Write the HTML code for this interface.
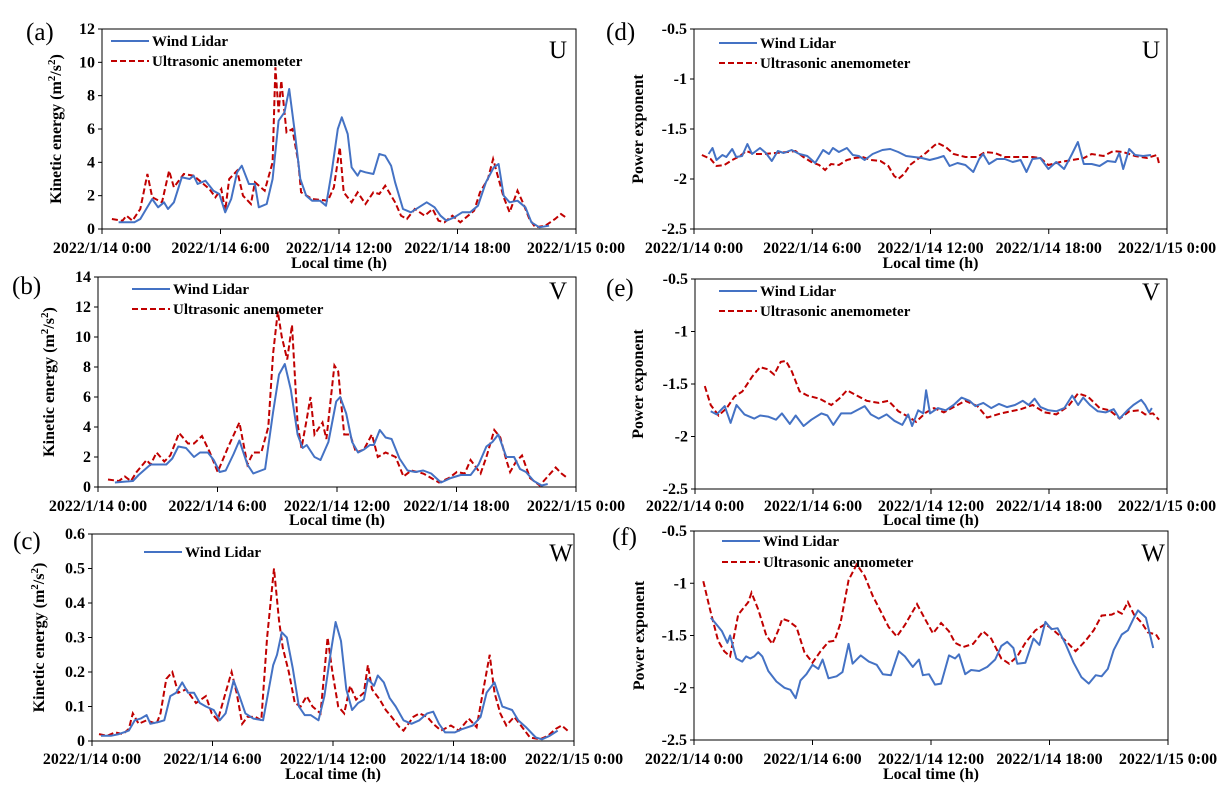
<!DOCTYPE html>
<html><head><meta charset="utf-8">
<style>
html,body{margin:0;padding:0;background:#fff;}
svg{display:block;font-family:"Liberation Serif",serif;}
.tk{font-size:16px;font-weight:bold;}
.ttl{font-size:16px;font-weight:bold;}
.lg{font-size:15px;font-weight:bold;}
.pl{font-size:25px;}
</style></head>
<body>
<svg id="fig" width="1229" height="797" viewBox="0 0 1229 797" xmlns="http://www.w3.org/2000/svg"></svg>
<script>
// ---------- data (hours, values) ----------
const xTickLabels = ["2022/1/14 0:00","2022/1/14 6:00","2022/1/14 12:00","2022/1/14 18:00","2022/1/15 0:00"];
const xTickHours = [0,6,12,18,24];

const aRedT=[0.5,1.04,1.24,1.54,1.94,2.3,2.54,3.04,3.4,3.64,4.14,4.64,5.04,5.44,5.74,6.04,6.24,6.44,6.84,7.14,7.54,7.74,8.24,8.64,8.78,8.94,9.08,9.34,9.64,9.94,10.08,10.64,11.44,11.74,12.04,12.24,12.64,12.94,13.34,13.74,14.04,14.34,14.84,15.14,15.44,15.84,16.34,16.74,17.04,17.34,17.74,18.14,18.84,19.14,19.54,19.8,20.08,20.34,20.64,21.04,21.34,21.64,21.94,22.44,22.94,23.24,23.48];
const aRedV=[0.6,0.5,0.8,0.5,1.2,3.3,1.9,1.6,3.5,2.5,3.3,3.2,2.8,2.4,1.9,2.4,1.1,3.0,3.5,2.0,1.5,2.8,2.3,4.0,9.7,7.0,8.9,5.8,6.0,4.0,2.2,1.8,1.7,2.5,4.9,2.2,1.6,2.2,1.5,2.2,2.1,2.6,1.6,0.8,0.6,1.2,0.8,1.2,0.5,0.4,0.8,0.4,1.1,2.2,3.0,4.2,3.0,1.9,1.0,2.3,1.5,0.6,0.1,0.2,0.6,0.9,0.7];
const aBlueT=[0.84,1.64,1.94,2.24,2.54,2.84,3.14,3.34,3.64,4.04,4.44,4.64,4.84,5.24,5.64,5.94,6.24,6.54,6.84,7.08,7.44,7.74,7.94,8.34,8.64,8.94,9.24,9.48,9.74,10.04,10.34,10.64,11.04,11.34,11.64,11.94,12.14,12.44,12.64,12.94,13.08,13.34,13.74,14.04,14.34,14.64,14.84,15.24,15.64,16.04,16.44,16.84,17.14,17.44,17.84,18.24,18.64,19.04,19.44,19.84,20.08,20.34,20.64,21.04,21.44,21.74,22.14,22.64];
const aBlueV=[0.4,0.4,0.6,1.2,1.8,1.3,1.6,1.2,1.6,3.1,3.0,3.2,2.7,2.9,2.3,2.1,1.0,1.8,3.4,3.8,2.7,2.7,1.3,1.5,3.0,6.5,7.0,8.4,6.0,3.0,2.0,1.7,1.7,1.4,3.5,6.0,6.7,5.7,3.7,3.2,3.5,3.4,3.3,4.5,4.4,3.8,2.8,1.2,1.0,1.3,1.6,1.3,0.8,0.5,0.7,1.0,1.0,1.4,2.8,3.7,3.9,2.0,1.6,1.7,1.3,0.4,0.1,0.2];

const bRedT=[0.5,1.05,1.35,1.65,1.94,2.44,2.64,2.94,3.33,3.63,4.07,4.52,4.82,5.22,5.62,6.01,6.51,7.1,7.5,7.8,8.2,8.55,8.79,9.03,9.23,9.5,9.74,10.02,10.22,10.48,10.67,10.87,11.27,11.47,11.87,12.06,12.36,12.66,12.96,13.35,13.75,14.05,14.44,14.94,15.34,15.73,16.33,16.73,17.12,17.62,18.02,18.41,18.71,19.21,19.5,19.9,20.2,20.5,20.69,20.99,21.29,21.69,22.18,22.58,22.98,23.27,23.57];
const bRedV=[0.5,0.4,0.7,0.4,1.0,1.8,1.5,2.3,1.7,2.1,3.6,2.9,2.9,3.4,2.3,1.0,2.6,4.3,1.5,2.3,2.3,4.0,8.9,11.7,10.0,8.5,10.8,4.2,2.6,4.5,6.0,3.5,4.3,3.2,8.1,7.7,3.5,3.5,2.3,2.5,3.5,2.0,2.3,2.0,0.7,1.1,0.9,0.6,0.3,0.6,1.0,0.9,1.8,0.9,2.0,3.8,3.3,1.8,1.0,1.7,2.1,0.6,0.1,0.7,1.3,0.9,0.6];
const bBlueT=[0.85,1.75,2.04,2.64,3.04,3.43,3.73,4.03,4.42,4.82,5.12,5.52,5.81,6.11,6.41,6.81,7.1,7.5,7.8,8.39,8.79,9.09,9.38,9.68,10.02,10.28,10.48,10.87,11.17,11.57,11.96,12.16,12.46,12.76,13.06,13.35,13.65,13.85,14.15,14.44,14.74,15.14,15.54,15.93,16.33,16.73,17.22,17.72,18.21,18.71,19.11,19.5,19.8,20.1,20.5,20.89,21.19,21.49,21.88,22.28,22.58];
const bBlueV=[0.3,0.4,0.8,1.5,1.5,1.5,1.9,2.7,2.6,2.0,2.3,2.3,1.8,1.0,1.1,2.2,3.1,1.5,0.9,1.2,5.0,7.5,8.2,6.5,3.5,2.6,2.8,2.0,1.8,3.0,5.7,6.0,4.9,3.0,2.3,2.5,2.8,2.8,3.8,3.3,3.2,1.9,1.1,1.0,1.1,0.9,0.3,0.6,0.8,0.8,1.5,2.7,3.0,3.5,2.0,2.0,1.2,1.0,0.4,0.1,0.2];

const cRedT=[0.35,0.75,1.14,1.54,1.83,2.03,2.32,2.72,3.21,3.41,3.7,4.0,4.29,4.69,5.18,5.67,5.96,6.26,6.65,6.95,7.2,7.48,7.74,8.13,8.43,8.72,9.06,9.31,9.5,9.8,10.1,10.39,10.69,10.98,11.38,11.73,11.97,12.26,12.56,12.85,13.15,13.54,13.74,13.94,14.33,14.63,14.92,15.31,15.51,16.0,16.3,16.69,16.99,17.38,17.87,18.27,18.76,19.15,19.49,19.8,20.04,20.33,20.63,21.02,21.42,21.81,22.3,22.7,23.09,23.39,23.68];
const cRedV=[0.02,0.015,0.025,0.02,0.035,0.08,0.05,0.06,0.05,0.08,0.18,0.2,0.14,0.15,0.11,0.13,0.08,0.06,0.14,0.2,0.14,0.05,0.07,0.07,0.06,0.3,0.5,0.35,0.27,0.2,0.11,0.1,0.13,0.1,0.08,0.3,0.2,0.1,0.08,0.16,0.12,0.14,0.22,0.15,0.12,0.09,0.07,0.04,0.03,0.07,0.08,0.07,0.05,0.03,0.045,0.03,0.065,0.04,0.15,0.25,0.14,0.08,0.045,0.07,0.04,0.01,0.005,0.015,0.035,0.045,0.03];
const cBlueT=[0.45,0.94,1.34,1.83,2.13,2.42,2.72,2.91,3.31,3.6,3.9,4.19,4.49,4.78,5.08,5.37,5.67,6.06,6.36,6.65,7.05,7.34,7.64,8.03,8.52,9.02,9.21,9.45,9.7,10.0,10.3,10.59,10.89,11.28,11.57,11.87,12.13,12.4,12.66,12.95,13.25,13.54,13.74,14.04,14.23,14.53,14.82,15.12,15.51,15.91,16.3,16.69,16.99,17.28,17.58,18.07,18.46,18.96,19.35,19.65,20.04,20.43,20.92,21.22,21.61,22.1,22.4,22.79,23.19];
const cBlueV=[0.015,0.015,0.02,0.03,0.06,0.065,0.075,0.05,0.055,0.06,0.13,0.14,0.17,0.14,0.14,0.11,0.1,0.09,0.06,0.08,0.175,0.13,0.08,0.065,0.06,0.22,0.25,0.315,0.3,0.21,0.1,0.075,0.075,0.06,0.13,0.25,0.345,0.29,0.15,0.09,0.11,0.12,0.18,0.16,0.19,0.17,0.125,0.1,0.06,0.05,0.06,0.08,0.085,0.05,0.025,0.025,0.035,0.045,0.07,0.14,0.17,0.1,0.09,0.06,0.04,0.01,0.005,0.015,0.03];

const dRedT=[0.4,0.84,1.14,1.54,1.94,2.34,2.65,3.05,3.55,4.15,4.75,5.15,5.55,5.95,6.35,6.65,6.95,7.35,7.76,8.16,8.56,8.96,9.46,9.86,10.16,10.36,10.66,10.96,11.36,11.76,12.16,12.36,12.77,13.17,13.77,14.37,14.77,15.27,15.77,16.57,17.17,17.57,17.98,18.58,19.18,19.78,20.18,20.78,21.28,21.78,22.38,22.99,23.49,23.59];
const dRedV=[-1.76,-1.8,-1.87,-1.86,-1.81,-1.77,-1.72,-1.75,-1.75,-1.74,-1.73,-1.72,-1.78,-1.83,-1.86,-1.91,-1.85,-1.86,-1.81,-1.79,-1.78,-1.81,-1.82,-1.87,-1.97,-2.0,-1.95,-1.86,-1.8,-1.74,-1.67,-1.64,-1.68,-1.75,-1.78,-1.78,-1.73,-1.74,-1.78,-1.78,-1.78,-1.79,-1.86,-1.83,-1.81,-1.79,-1.75,-1.77,-1.72,-1.73,-1.77,-1.79,-1.76,-1.84];
const dBlueT=[0.74,0.94,1.14,1.44,1.64,1.94,2.14,2.44,2.71,2.95,3.35,3.65,3.95,4.25,4.55,4.95,5.35,5.75,6.15,6.55,6.85,7.05,7.35,7.76,8.06,8.36,8.66,9.06,9.56,9.96,10.36,10.76,11.16,11.56,11.96,12.36,12.67,12.97,13.37,13.77,14.17,14.47,14.67,14.97,15.37,15.77,16.17,16.57,16.87,17.17,17.57,17.98,18.38,18.78,19.18,19.48,19.78,20.18,20.58,20.98,21.38,21.58,21.78,22.08,22.38,22.79,23.19];
const dBlueV=[-1.75,-1.69,-1.81,-1.76,-1.78,-1.7,-1.78,-1.77,-1.65,-1.75,-1.69,-1.74,-1.82,-1.72,-1.74,-1.71,-1.75,-1.77,-1.84,-1.71,-1.75,-1.69,-1.73,-1.69,-1.76,-1.77,-1.81,-1.75,-1.71,-1.7,-1.73,-1.77,-1.78,-1.79,-1.81,-1.79,-1.77,-1.87,-1.84,-1.86,-1.93,-1.8,-1.75,-1.85,-1.8,-1.8,-1.83,-1.81,-1.93,-1.8,-1.79,-1.9,-1.83,-1.9,-1.75,-1.63,-1.85,-1.85,-1.87,-1.82,-1.83,-1.74,-1.9,-1.7,-1.76,-1.77,-1.76];

const eRedT=[0.5,0.8,1.2,1.61,2.01,2.41,2.91,3.31,3.71,4.02,4.36,4.62,4.92,5.32,5.72,6.33,6.93,7.33,7.73,8.13,8.73,9.34,9.84,10.34,10.84,11.24,11.75,12.15,12.65,13.15,13.75,14.36,14.86,15.56,16.06,16.57,17.17,17.77,18.37,18.98,19.48,19.98,20.58,21.08,21.59,22.09,22.59,22.89,23.29,23.59];
const eRedV=[-1.52,-1.7,-1.8,-1.73,-1.62,-1.57,-1.43,-1.34,-1.36,-1.41,-1.29,-1.28,-1.38,-1.57,-1.61,-1.64,-1.7,-1.64,-1.56,-1.6,-1.66,-1.68,-1.66,-1.76,-1.81,-1.86,-1.77,-1.73,-1.77,-1.72,-1.66,-1.71,-1.82,-1.78,-1.76,-1.74,-1.7,-1.77,-1.79,-1.71,-1.59,-1.62,-1.73,-1.75,-1.83,-1.76,-1.75,-1.79,-1.78,-1.84];
const eBlueT=[0.8,1.1,1.51,1.81,2.11,2.51,3.01,3.31,3.71,4.12,4.42,4.82,5.12,5.52,5.92,6.43,6.73,7.03,7.43,7.93,8.23,8.63,8.94,9.34,9.74,10.14,10.54,10.84,11.04,11.35,11.61,11.75,11.95,12.35,12.75,13.15,13.55,13.96,14.26,14.66,15.06,15.46,15.86,16.27,16.67,16.97,17.27,17.57,17.97,18.37,18.78,19.18,19.48,19.74,20.08,20.48,20.88,21.29,21.59,21.99,22.29,22.69,22.89,23.09,23.23];
const eBlueV=[-1.76,-1.79,-1.71,-1.87,-1.7,-1.79,-1.83,-1.8,-1.81,-1.84,-1.78,-1.88,-1.8,-1.9,-1.84,-1.78,-1.8,-1.89,-1.78,-1.78,-1.75,-1.71,-1.79,-1.83,-1.79,-1.85,-1.89,-1.79,-1.9,-1.75,-1.78,-1.56,-1.78,-1.73,-1.75,-1.7,-1.63,-1.66,-1.71,-1.68,-1.73,-1.69,-1.72,-1.7,-1.66,-1.7,-1.64,-1.72,-1.75,-1.76,-1.73,-1.61,-1.7,-1.63,-1.7,-1.76,-1.77,-1.74,-1.83,-1.75,-1.7,-1.65,-1.7,-1.77,-1.73];

const fRedT=[0.47,0.81,1.22,1.53,1.83,2.24,2.75,2.91,3.25,3.66,3.97,4.27,4.47,4.78,5.19,5.59,6.0,6.41,6.81,7.12,7.42,7.83,8.24,8.64,9.05,9.46,9.86,10.27,10.68,11.29,11.69,12.1,12.51,12.91,13.22,13.63,14.13,14.64,15.05,15.56,15.96,16.37,16.78,17.29,17.79,18.2,18.81,19.32,19.83,20.24,20.64,21.15,21.46,21.66,21.97,22.28,22.68,22.98,23.39,23.59];
const fRedV=[-0.98,-1.25,-1.55,-1.65,-1.7,-1.3,-1.18,-1.09,-1.25,-1.5,-1.58,-1.45,-1.34,-1.36,-1.42,-1.66,-1.76,-1.65,-1.56,-1.55,-1.38,-0.97,-0.82,-0.93,-1.12,-1.27,-1.42,-1.51,-1.4,-1.2,-1.34,-1.48,-1.38,-1.46,-1.57,-1.61,-1.58,-1.46,-1.53,-1.72,-1.77,-1.7,-1.57,-1.45,-1.39,-1.45,-1.55,-1.65,-1.55,-1.45,-1.31,-1.3,-1.27,-1.29,-1.18,-1.3,-1.38,-1.47,-1.49,-1.55];
const fBlueT=[0.85,1.12,1.42,1.69,1.83,2.14,2.44,2.64,2.85,3.05,3.25,3.46,3.76,4.17,4.58,4.88,5.15,5.39,5.69,6.0,6.3,6.51,6.81,7.22,7.52,7.83,8.03,8.44,8.85,9.25,9.56,9.97,10.37,10.68,11.08,11.39,11.59,11.9,12.2,12.51,12.91,13.22,13.42,13.73,14.03,14.44,14.85,15.25,15.56,15.86,16.17,16.37,16.78,17.19,17.49,17.79,18.1,18.41,18.81,19.22,19.62,19.99,20.34,20.64,20.95,21.25,21.66,21.97,22.28,22.48,22.88,23.25];
const fBlueV=[-1.33,-1.39,-1.46,-1.57,-1.5,-1.72,-1.75,-1.7,-1.72,-1.7,-1.66,-1.7,-1.84,-1.94,-2.0,-2.02,-2.1,-1.93,-1.87,-1.78,-1.82,-1.73,-1.91,-1.89,-1.85,-1.58,-1.77,-1.69,-1.75,-1.78,-1.87,-1.88,-1.65,-1.7,-1.8,-1.73,-1.88,-1.87,-1.97,-1.96,-1.69,-1.72,-1.68,-1.87,-1.83,-1.84,-1.8,-1.73,-1.6,-1.56,-1.62,-1.77,-1.76,-1.53,-1.59,-1.37,-1.44,-1.43,-1.58,-1.76,-1.9,-1.96,-1.88,-1.89,-1.82,-1.64,-1.49,-1.45,-1.33,-1.26,-1.33,-1.62];

const keTicks=[[0,2,4,6,8,10,12],[0,2,4,6,8,10,12,14],[0,0.1,0.2,0.3,0.4,0.5,0.6]];
const peTicks=[-2.5,-2,-1.5,-1,-0.5];

// ---------- drawing ----------
const NS="http://www.w3.org/2000/svg";
const svg=document.getElementById('fig');
function mk(tag,attrs,parent){const e=document.createElementNS(NS,tag);for(const k in attrs)e.setAttribute(k,attrs[k]);(parent||svg).appendChild(e);return e;}

const panels=[
 {id:'a',L:102,R:576,T:29,B:229,ymin:0,ymax:12,ticks:keTicks[0],ytitle:'ke',comp:'U',lg:[111,41,61],rT:aRedT,rV:aRedV,bT:aBlueT,bV:aBlueV,lblX:26,lblY:40,ytX:61,lab:'(a)',compX:558,compY:58,xlY:253,xtY:268,dec:0},
 {id:'b',L:98,R:576,T:277,B:487,ymin:0,ymax:14,ticks:keTicks[1],ytitle:'ke',comp:'V',lg:[132,289,309],rT:bRedT,rV:bRedV,bT:bBlueT,bV:bBlueV,lblX:12,lblY:294,ytX:54,lab:'(b)',compX:558,compY:299,xlY:511,xtY:525,dec:0},
 {id:'c',L:92,R:574,T:534,B:741,ymin:0,ymax:0.6,ticks:keTicks[2],ytitle:'ke',comp:'W',lg:[144,552,null],rT:cRedT,rV:cRedV,bT:cBlueT,bV:cBlueV,lblX:13,lblY:549,ytX:44,lab:'(c)',compX:561,compY:561,xlY:764,xtY:779,dec:1},
 {id:'d',L:694,R:1167,T:29,B:229,ymin:-2.5,ymax:-0.5,ticks:peTicks,ytitle:'pe',comp:'U',lg:[719,43,63],rT:dRedT,rV:dRedV,bT:dBlueT,bV:dBlueV,lblX:606,lblY:40,ytX:643,lab:'(d)',compX:1151,compY:58,xlY:253,xtY:268,dec:-1},
 {id:'e',L:695,R:1167,T:279,B:489,ymin:-2.5,ymax:-0.5,ticks:peTicks,ytitle:'pe',comp:'V',lg:[719,291,311],rT:eRedT,rV:eRedV,bT:eBlueT,bV:eBlueV,lblX:606,lblY:296,ytX:643,lab:'(e)',compX:1151,compY:300,xlY:511,xtY:525,dec:-1},
 {id:'f',L:694,R:1168,T:531,B:740,ymin:-2.5,ymax:-0.5,ticks:peTicks,ytitle:'pe',comp:'W',lg:[722,541,562],rT:fRedT,rV:fRedV,bT:fBlueT,bV:fBlueV,lblX:612,lblY:545,ytX:644,lab:'(f)',compX:1153,compY:561,xlY:764,xtY:779,dec:-1}
];

function fmt(v,dec){
  if(dec===1) return v===0?'0':v.toFixed(1);
  return String(v);
}

panels.forEach(p=>{
  const g=mk('g',{});
  
  
  const xs=h=>p.L+(h/24)*(p.R-p.L);
  const ys=v=>p.B-(v-p.ymin)/(p.ymax-p.ymin)*(p.B-p.T);

  const frame=mk('rect',{x:p.L,y:p.T,width:p.R-p.L,height:p.B-p.T,fill:'none',stroke:'#000','stroke-width':1},g);
  
  

  // y ticks
  p.ticks.forEach(t=>{
    const tl=mk('line',{x1:p.L-4,x2:p.L,y1:ys(t),y2:ys(t),stroke:'#000'},g);
    
    
    const tx=mk('text',{x:p.L-7,y:ys(t)+5,'text-anchor':'end',class:'tk'},g);
    
    
    tx.textContent=fmt(t,p.dec);
  });
  // x ticks
  xTickHours.forEach((h,i)=>{
    const tl=mk('line',{x1:xs(h),x2:xs(h),y1:p.B,y2:p.B+5,stroke:'#000'},g);
    
    
    const tx=mk('text',{x:xs(h),y:p.xlY,'text-anchor':'middle',class:'tk'},g);
    
    
    tx.textContent=xTickLabels[i];
  });
  const xt=mk('text',{x:(p.L+p.R)/2,y:p.xtY,'text-anchor':'middle',class:'ttl'},g);
  
  
  xt.textContent='Local time (h)';

  const cy=(p.T+p.B)/2;
  const yt=mk('text',{x:p.ytX,y:cy,'text-anchor':'middle',class:'ttl',transform:`rotate(-90 ${p.ytX} ${cy})`},g);
  
  
  if(p.ytitle==='ke'){
    yt.innerHTML='Kinetic energy (m<tspan dy="-6" font-size="11">2</tspan><tspan dy="6">/s</tspan><tspan dy="-6" font-size="11">2</tspan><tspan dy="6">)</tspan>';
  } else yt.textContent='Power exponent';

  const lab=mk('text',{x:p.lblX,y:p.lblY,class:'pl'},g);
  
  
  lab.textContent=p.lab;
  const comp=mk('text',{x:p.compX,y:p.compY,'text-anchor':'middle',class:'pl'},g);
  
  
  comp.textContent=p.comp;

  // series
  const path=(T,V)=>T.map((h,i)=>(i?'L':'M')+xs(h).toFixed(1)+','+ys(V[i]).toFixed(1)).join(' ');
  const red=mk('path',{d:path(p.rT,p.rV),fill:'none',stroke:'#C00000','stroke-width':2,'stroke-dasharray':'6,3'},g);
  
  
  const blue=mk('path',{d:path(p.bT,p.bV),fill:'none',stroke:'#4472C4','stroke-width':2,'stroke-linejoin':'round'},g);
  
  

  // legend
  const lx=p.lg[0];
  const l1=mk('line',{x1:lx,x2:lx+38,y1:p.lg[1],y2:p.lg[1],stroke:'#4472C4','stroke-width':2},g);
  
  
  const t1=mk('text',{x:lx+41,y:p.lg[1]+5,class:'lg'},g);
  
  
  t1.textContent='Wind Lidar';
  if(p.lg[2]!==null){
    const l2=mk('line',{x1:lx,x2:lx+38,y1:p.lg[2],y2:p.lg[2],stroke:'#C00000','stroke-width':2,'stroke-dasharray':'6,3'},g);
    
    
    const t2=mk('text',{x:lx+41,y:p.lg[2]+5,class:'lg'},g);
    
    
    t2.textContent='Ultrasonic anemometer';
  }
});
</script>
</body></html>
